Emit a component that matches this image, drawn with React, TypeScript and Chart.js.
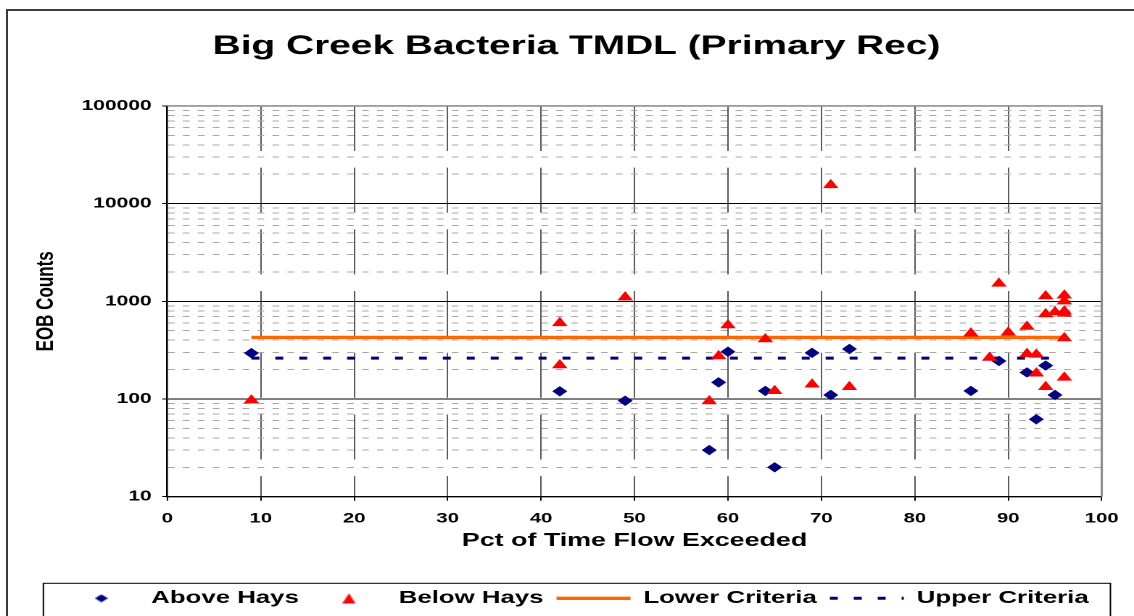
import React, { useEffect, useRef } from 'react';
import { Chart, registerables } from 'chart.js';

Chart.register(...registerables);

// ---- data ----
const aboveX = [9, 42, 49, 58, 59, 60, 64, 65, 69, 71, 73, 86, 89, 92, 93, 94, 95];
const aboveY = [295, 120, 96, 30, 148, 305, 121, 20, 297, 110, 325, 121, 245, 187, 62, 220, 110];

const belowX = [9, 42, 42, 49, 58, 59, 60, 64, 65, 69, 71, 73, 86, 88, 89, 90, 92, 92, 93, 93, 94, 94, 94, 95, 96, 96, 96, 96, 96, 96];
const belowY = [97, 222, 600, 1100, 95, 275, 570, 410, 121, 141, 15500, 133, 470, 265, 1520, 480, 550, 290, 285, 183, 1130, 740, 133, 775, 1150, 1000, 790, 750, 420, 166];

const criteriaX = [9, 96];
const lowerCriteria = [427, 427];
const upperCriteria = [262, 262];

const yDecades = [10, 100, 1000, 10000, 100000];
const yMinorSteps = [2, 3, 4, 5, 6, 7, 8, 9];
const xMin = 0;
const xMax = 100;
const xStep = 10;

const titleText = 'Big Creek Bacteria TMDL (Primary Rec)';
const xTitle = 'Pct of Time Flow Exceeded';
const yTitle = 'EOB Counts';
const seriesNames = ['Above Hays', 'Below Hays', 'Lower Criteria', 'Upper Criteria'];

// ---- layout constants (the reference is horizontally stretched) ----
const INNER_W = 782;
const INNER_H = 620;
const STRETCH = 1134 / INNER_W;

const majorSet = new Set(yDecades);
const yTickList: number[] = [];
yDecades.forEach((d, i) => {
  yTickList.push(d);
  if (i < yDecades.length - 1) yMinorSteps.forEach((m) => yTickList.push(d * m));
});

const zip = (xs: number[], ys: number[]) => xs.map((x, i) => ({ x, y: ys[i] }));

const FONT = "'Liberation Sans', Arial, sans-serif";

function makeMarker(kind: 'diamond' | 'triangle', color: string, w: number, h: number) {
  const c = document.createElement('canvas');
  c.width = w;
  c.height = h;
  const g = c.getContext('2d')!;
  g.fillStyle = color;
  g.beginPath();
  if (kind === 'diamond') {
    g.moveTo(w / 2, 0);
    g.lineTo(w, h / 2);
    g.lineTo(w / 2, h);
    g.lineTo(0, h / 2);
  } else {
    g.moveTo(w / 2, 0);
    g.lineTo(w, h);
    g.lineTo(0, h);
  }
  g.closePath();
  g.fill();
  return c;
}

const framePlugin = {
  id: 'frame',
  beforeDatasetsDraw(chart: any) {
    const { ctx, chartArea: a } = chart;
    ctx.save();
    ctx.strokeStyle = '#8f8f8f';
    ctx.lineWidth = 1.6;
    ctx.beginPath();
    ctx.moveTo(a.left, a.top);
    ctx.lineTo(a.right, a.top);
    ctx.lineTo(a.right, a.bottom);
    ctx.stroke();
    ctx.restore();
  },
  afterDraw(chart: any) {
    const lg = chart.legend;
    if (!lg || !lg.legendHitBoxes || !lg.legendHitBoxes.length) return;
    const hb = lg.legendHitBoxes;
    const last = hb[hb.length - 1];
    const left = hb[0].left - 14.5;
    const right = last.left + last.width + 15;
    const top = lg.top + 2.9;
    const { ctx } = chart;
    ctx.save();
    ctx.strokeStyle = '#000';
    ctx.lineWidth = 1;
    ctx.strokeRect(left, top, right - left, 100);
    ctx.restore();
  },
};

export default function App() {
  const canvasRef = useRef<HTMLCanvasElement | null>(null);

  useEffect(() => {
    if (!canvasRef.current) return;
    Chart.defaults.font.family = FONT;
    const isMajor = (v: any) => majorSet.has(v);
    const legendMarkers: any = {
      0: makeMarker('diamond', '#000080', 9, 8),
      1: makeMarker('triangle', '#ff0000', 9, 10),
    };

    const chart = new Chart(canvasRef.current, {
      type: 'scatter',
      data: {
        datasets: [
          {
            label: seriesNames[0],
            data: zip(aboveX, aboveY),
            pointStyle: 'rectRot',
            pointRadius: 5.2,
            pointBackgroundColor: '#000080',
            pointBorderWidth: 0,
            backgroundColor: '#000080',
            borderColor: '#000080',
            order: 1,
          },
          {
            label: seriesNames[1],
            data: zip(belowX, belowY),
            pointStyle: 'triangle',
            pointRadius: 6.2,
            pointBackgroundColor: '#ff0000',
            pointBorderWidth: 0,
            backgroundColor: '#ff0000',
            borderColor: '#ff0000',
            order: 0,
          },
          {
            label: seriesNames[2],
            data: zip(criteriaX, lowerCriteria),
            showLine: true,
            borderColor: '#ff6600',
            backgroundColor: '#ff6600',
            borderWidth: 3.3,
            pointRadius: 0,
            pointStyle: 'line',
            order: 3,
          },
          {
            label: seriesNames[3],
            data: zip(criteriaX, upperCriteria),
            showLine: true,
            borderColor: '#000080',
            backgroundColor: '#000080',
            borderWidth: 3,
            borderDash: [5.5, 11],
            pointRadius: 0,
            pointStyle: 'line',
            order: 2,
          },
        ],
      },
      options: {
        animation: false,
        responsive: true,
        maintainAspectRatio: false,
        devicePixelRatio: 2,
        events: [],
        layout: { padding: { left: 35.38, right: 22.26, top: 0, bottom: 2.8 } },
        plugins: {
          tooltip: { enabled: false },
          title: {
            display: true,
            text: titleText,
            color: '#000',
            font: { family: FONT, size: 26.8, weight: 'bold' },
            padding: { top: 30.6, bottom: 43.2 },
          },
          legend: {
            display: true,
            position: 'bottom',
            align: 'center',
            labels: {
              usePointStyle: true,
              pointStyleWidth: 51,
              boxHeight: 6.5,
              padding: 9,
              color: '#000',
              font: { family: FONT, size: 17.8, weight: 'bold' },
              generateLabels: (ch: any) => {
                const items = (Chart.defaults.plugins.legend.labels as any).generateLabels(ch);
                items.sort((a: any, b: any) => a.datasetIndex - b.datasetIndex);
                return items.map((it: any) => {
                  const ds: any = ch.data.datasets[it.datasetIndex];
                  if (ds.showLine) {
                    return {
                      ...it,
                      pointStyle: 'line',
                      lineWidth: ds.borderWidth,
                      strokeStyle: ds.borderColor,
                      lineDash: ds.borderDash || [],
                      lineCap: 'butt',
                    };
                  }
                  return {
                    ...it,
                    pointStyle: legendMarkers[it.datasetIndex],
                    fillStyle: ds.pointBackgroundColor,
                    lineWidth: 0,
                  };
                });
              },
            },
          },
        },
        scales: {
          x: {
            type: 'linear',
            min: xMin,
            max: xMax,
            afterFit: (s: any) => {
              s.height = 83.7;
            },
            ticks: {
              stepSize: xStep,
              autoSkip: false,
              maxRotation: 0,
              color: '#000',
              padding: 9.6,
              font: { family: FONT, size: 14, weight: 'bold' },
            },
            grid: {
              color: (c: any) =>
                c.tick && (c.tick.value === xMin || c.tick.value === xMax) ? 'rgba(0,0,0,0)' : '#5a5a5a',
              lineWidth: 1,
              tickColor: '#000',
              tickLength: 4,
            },
            border: {
              display: true,
              color: '#000',
              width: 1.4,
              dash: (c: any) => (c.tick ? [45, 16.7] : []),
            },
            title: {
              display: true,
              text: xTitle,
              color: '#000',
              font: { family: FONT, size: 18.5, weight: 'bold' },
              padding: { top: 0, bottom: 28.5 },
            },
          },
          y: {
            type: 'logarithmic',
            min: yDecades[0],
            max: yDecades[yDecades.length - 1],
            afterFit: (s: any) => {
              s.width = 80;
            },
            afterBuildTicks: (s: any) => {
              s.ticks = yTickList.map((v) => ({ value: v, major: isMajor(v) }));
            },
            ticks: {
              autoSkip: false,
              color: '#000',
              padding: 7.3,
              font: { family: FONT, size: 14.5, weight: 'bold' },
              callback: (v: any) => (isMajor(v) ? String(v) : ''),
            },
            grid: {
              color: (c: any) => (c.tick && !isMajor(c.tick.value) ? '#a8a8a8' : '#000'),
              lineWidth: 1,
              tickColor: (c: any) => (c.tick && isMajor(c.tick.value) ? '#000' : 'rgba(0,0,0,0)'),
              tickLength: 3.5,
            },
            border: {
              display: true,
              color: '#000',
              width: 1.3,
              dash: (c: any) => (c.tick && !isMajor(c.tick.value) ? [4.6, 5.7] : []),
            },
            title: {
              display: true,
              text: yTitle,
              color: '#000',
              font: { family: FONT, size: 17, weight: 'bold' },
              padding: { top: -14, bottom: 0 },
            },
          },
        },
      } as any,
      plugins: [framePlugin],
    });

    return () => chart.destroy();
  }, []);

  return (
    <div
      style={{
        position: 'fixed',
        left: 0,
        top: 0,
        width: 1134,
        height: 616,
        overflow: 'hidden',
        background: '#fff',
      }}
    >
      <div
        style={{
          position: 'absolute',
          left: 6,
          top: 9,
          width: 1300,
          height: 700,
          border: '2px solid #3a3a3a',
          boxSizing: 'border-box',
        }}
      />
      <div
        style={{
          position: 'absolute',
          left: 0,
          top: 0,
          width: INNER_W,
          height: INNER_H,
          transform: `scaleX(${STRETCH})`,
          transformOrigin: '0 0',
        }}
      >
        <canvas ref={canvasRef} />
      </div>
    </div>
  );
}
